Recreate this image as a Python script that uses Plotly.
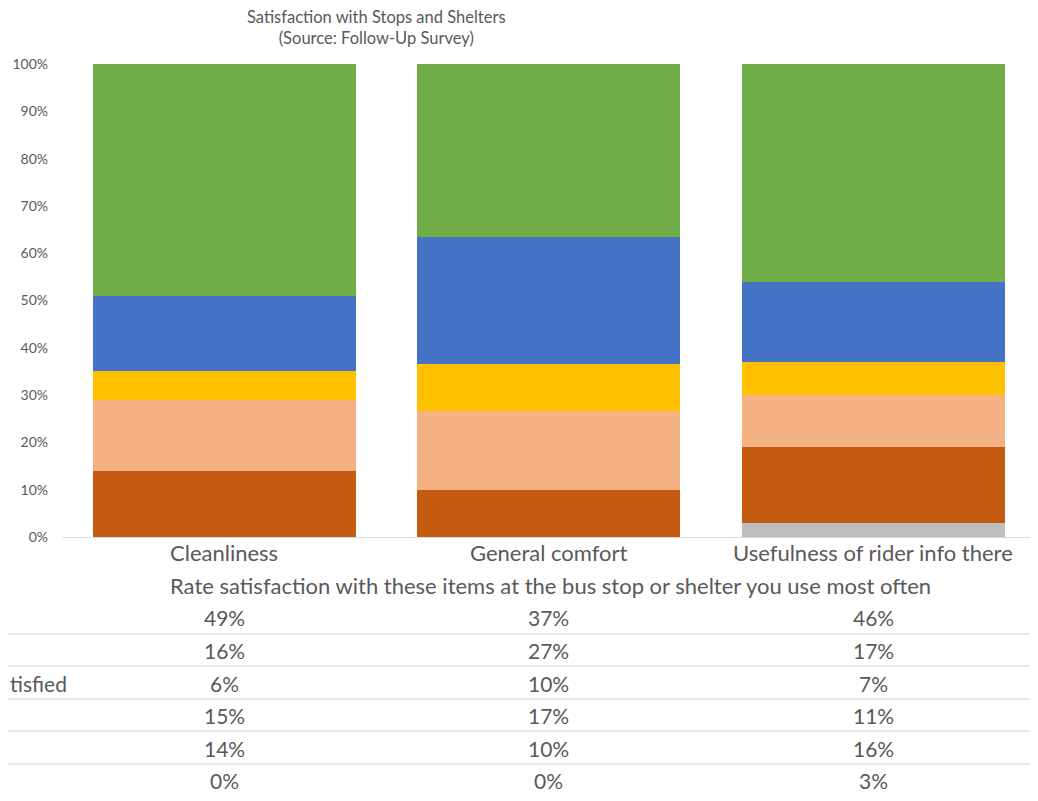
import plotly.graph_objects as go

categories = ["Cleanliness", "General comfort", "Usefulness of rider info there"]

# series, bottom of stack first
series_names = ["Don't know", "Very dissatisfied", "Dissatisfied",
                "Neither satisfied nor dissatisfied", "Satisfied", "Very satisfied"]
dont_know = [0, 0, 3]
very_dissatisfied = [14, 10, 16]
dissatisfied = [15, 17, 11]
neutral = [6, 10, 7]
satisfied = [16, 27, 17]
very_satisfied = [49, 37, 46]

series_values = [dont_know, very_dissatisfied, dissatisfied,
                 neutral, satisfied, very_satisfied]
series_colors = ["#BFBFBF", "#C55A11", "#F4B183", "#FFC000", "#4472C4", "#70AD47"]

# only the tail of one row label is visible in the cropped table
row_label_visible = ["", "", "tisfied", "", "", ""]

# the page body has an 8px margin, so the figure is drawn 8px in from the corner
OFF = 8
W, H = 1038 - 2 * OFF, 801 - 2 * OFF
FONT = "Lato, 'Open Sans', sans-serif"
GREY = "#595959"


def px_(x):
    return (x - OFF) / W


def py(y):
    return (H - (y - OFF)) / H


fig = go.Figure()
for name, vals, col in zip(series_names, series_values, series_colors):
    fig.add_trace(go.Bar(x=categories, y=vals, name=name,
                         marker=dict(color=col, line=dict(width=0)),
                         showlegend=False))

# data table under the chart, top row = top of stack
table_rows = list(zip(series_names, series_values))[::-1]
row_centres = [617, 650, 683, 715, 748, 780]
row_lines = [634, 666, 699, 731, 764]

annotations = []
for cat in categories:
    annotations.append(dict(x=cat, xref="x", y=py(552), yref="paper",
                            text=cat, showarrow=False,
                            xanchor="center", yanchor="middle",
                            font=dict(size=22, color=GREY, family=FONT)))

for (name, vals), yc, lab in zip(table_rows, row_centres, row_label_visible):
    for cat, v in zip(categories, vals):
        annotations.append(dict(x=cat, xref="x", y=py(yc), yref="paper",
                                text=f"{v}%", showarrow=False,
                                xanchor="center", yanchor="middle",
                                font=dict(size=21, color=GREY, family=FONT)))
    if lab:
        annotations.append(dict(x=0, xref="paper", y=py(yc), yref="paper",
                                text=lab, showarrow=False,
                                xanchor="left", yanchor="middle",
                                font=dict(size=21, color=GREY, family=FONT)))

annotations.append(dict(x=px_(550), xref="paper", y=py(585), yref="paper",
                        text="Rate satisfaction with these items at the bus stop or shelter you use most often",
                        showarrow=False, xanchor="center", yanchor="middle",
                        font=dict(size=22, color=GREY, family=FONT)))
annotations.append(dict(x=px_(376), xref="paper", y=py(28), yref="paper",
                        text="Satisfaction with Stops and Shelters<br>(Source: Follow-Up Survey)",
                        showarrow=False, xanchor="center", yanchor="middle",
                        font=dict(size=16.5, color=GREY, family=FONT)))

shapes = []
for yl in row_lines:
    shapes.append(dict(type="line", xref="paper", yref="paper",
                       x0=0, x1=1, y0=py(yl), y1=py(yl),
                       line=dict(color="#E2E2E2", width=1.5)))

# category slot is 324.5px wide starting at x=62; plot runs to the right edge
slot = 324.5
x_left = 62
fig.update_layout(
    width=W, height=H,
    margin=dict(l=0, r=0, t=0, b=0),
    barmode="stack",
    barnorm="percent",  # 100% stacked, General comfort sums to 101
    bargap=0.19,
    plot_bgcolor="white",
    paper_bgcolor="white",
    font=dict(family=FONT, color=GREY),
    annotations=annotations,
    shapes=shapes,
    xaxis=dict(domain=[px_(x_left), 1],
               range=[-0.5, -0.5 + (W + OFF - x_left) / slot],
               showgrid=False, showline=True, showticklabels=False,
               linecolor="#D9D9D9", linewidth=1, ticks="",
               automargin=False, fixedrange=True),
    yaxis=dict(domain=[py(537), py(64)], range=[0, 100], dtick=10,
               ticksuffix="%", showgrid=False, zeroline=False,
               tickfont=dict(size=14, color=GREY, family=FONT),
               automargin=False, ticklabelstandoff=13, fixedrange=True),
)

fig.write_html("out.html")
